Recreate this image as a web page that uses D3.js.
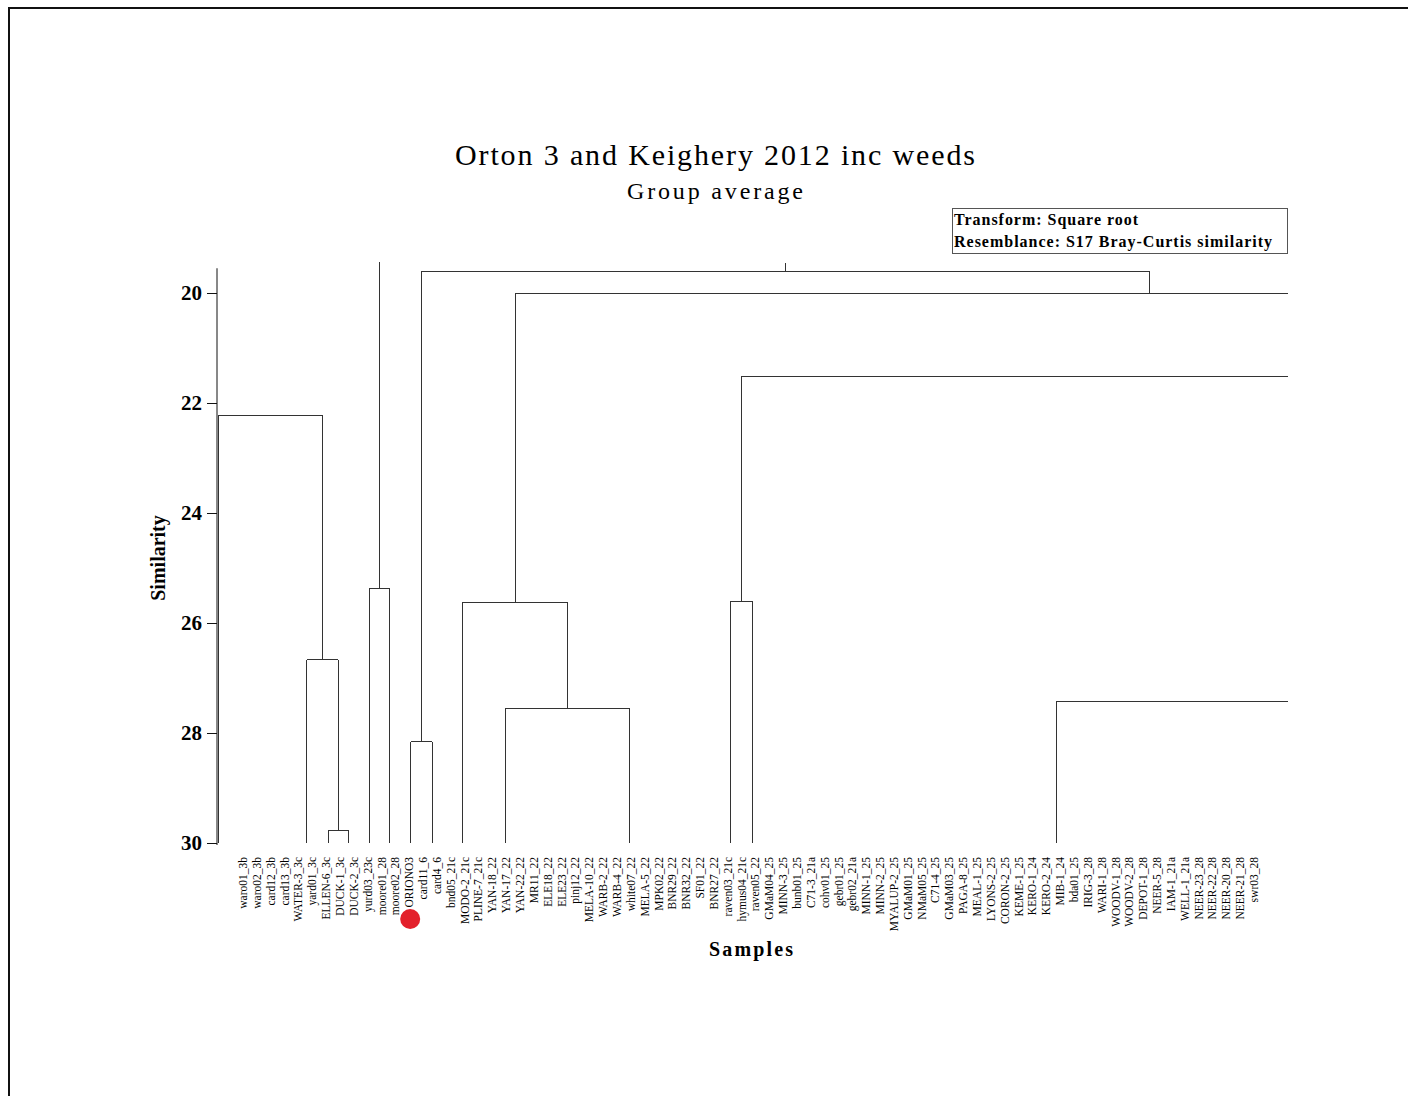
<!DOCTYPE html>
<html><head><meta charset="utf-8">
<script src="https://cdn.jsdelivr.net/npm/d3@7"></script>
<style>body{margin:0;background:#fff;overflow:hidden}</style>
</head><body>
<svg id="chart" width="1408" height="1096"></svg>
<script>
// ---------- data ----------
const titleText = "Orton 3 and Keighery 2012 inc weeds";
const subtitleText = "Group average";
const legendLines = ["Transform: Square root", "Resemblance: S17 Bray-Curtis similarity"];
const sampleLabels = [
  "waro01_3b","waro02_3b","card12_3b","card13_3b","WATER-3_3c","yard01_3c","ELLEN-6_3c","DUCK-1_3c","DUCK-2_3c",
  "yurd03_23c","moore01_28","moore02_28","ORIONO3","card11_6","card4_6","bnd05_21c","MODO-2_21c","PLINE-7_21c",
  "YAN-18_22","YAN-17_22","YAN-22_22","MR11_22","ELE18_22","ELE23_22","pinj12_22","MELA-10_22","WARB-2_22",
  "WARB-4_22","white07_22","MELA-5_22","MPK02_22","BNR29_22","BNR32_22","SF01_22","BNR27_22","raven03_21c",
  "hymus04_21c","raven05_22","GMaM04_25","MINN-3_25","bunb01_25","C71-3_21a","cohv01_25","gebr01_25","gebr02_21a",
  "MINN-1_25","MINN-2_25","MYALUP-2_25","GMaM01_25","NMaM05_25","C71-4_25","GMaM03_25","PAGA-8_25","MEAL-1_25",
  "LYONS-2_25","CORON-2_25","KEME-1_25","KERO-1_24","KERO-2_24","MIB-1_24","bda01_25","IRIG-3_28","WARI-1_28",
  "WOODV-1_28","WOODV-2_28","DEPOT-1_28","NEER-5_28","IAM-1_21a","WELL-1_21a","NEER-23_28","NEER-22_28",
  "NEER-20_28","NEER-21_28","swr03_28"
];
const simTicks = [20, 22, 24, 26, 28, 30];
// merges: [id, left child (leaf position in sample-index units, or merge id), right child, similarity]
const merges = [
  ["A", 6.14, 7.65, 29.78],
  ["B", 4.62, "A", 26.67],
  ["C", -1.8, "B", 22.22],
  ["D", 9.10, 10.61, 25.38],
  ["E", 12.13, 13.65, 28.16],
  ["G", 18.92, 27.94, 27.55],
  ["H", 15.88, "G", 25.62],
  ["I", 35.23, 36.82, 25.60],
  ["J", 58.77, 100, 27.42],
  ["K", "I", 120, 21.51],
  ["M", "H", 111.2, 20.00],
  ["F", "E", "M", 19.60]
];
// stems of top-level clusters, cut at the top of the plot
const stemIds = ["D", "F"];
const stemTopSims = [19.44, 19.45];
const highlightedSample = "ORIONO3";

// ---------- drawing ----------
const svg = d3.select("#chart");
const serif = "'Liberation Serif','Times New Roman',serif";

// outer frame
svg.append("rect").attr("x", 9).attr("y", 8).attr("width", 1420).attr("height", 1110)
  .attr("fill", "none").attr("stroke", "#111").attr("stroke-width", 2);

const x = d3.scaleLinear().domain([0, sampleLabels.length - 1]).range([243, 1254]);
const y = d3.scaleLinear().domain([30, 20]).range([843, 293]);
const axisX = 217;
const plotRight = 1288;

// titles
svg.append("text").attr("x", 715).attr("y", 165).attr("text-anchor", "middle")
  .attr("font-family", serif).attr("font-size", 30).attr("fill", "#000")
  .attr("textLength", 520).attr("lengthAdjust", "spacing").text(titleText);
svg.append("text").attr("x", 715).attr("y", 199).attr("text-anchor", "middle")
  .attr("font-family", serif).attr("font-size", 24).attr("fill", "#000")
  .attr("textLength", 176).attr("lengthAdjust", "spacing").text(subtitleText);

// legend box
svg.append("rect").attr("x", 952.5).attr("y", 208.5).attr("width", 335).attr("height", 45)
  .attr("fill", "#fff").attr("stroke", "#555").attr("stroke-width", 1);
const legLens = [184, 318];
legendLines.forEach((t, i) => {
  svg.append("text").attr("x", 954).attr("y", 225 + i * 22)
    .attr("font-family", serif).attr("font-size", 16).attr("font-weight", "bold")
    .attr("textLength", legLens[i]).attr("lengthAdjust", "spacing").text(t);
});

// y axis
const yAxis = d3.axisLeft(y).tickValues(simTicks).tickSize(10).tickPadding(5).tickFormat(d3.format("d"));
const ya = svg.append("g").attr("transform", `translate(${axisX},0)`).call(yAxis);
ya.select(".domain").remove();
ya.append("line").attr("x1", 0).attr("x2", 0).attr("y1", y(19.55)).attr("y2", y(30) + 2)
  .attr("stroke", "#111");
ya.selectAll(".tick line").attr("stroke", "#111");
ya.selectAll(".tick text").attr("font-family", serif).attr("font-size", 21)
  .attr("font-weight", "bold").attr("fill", "#000");

svg.append("text").attr("transform", `translate(165,558) rotate(-90)`).attr("text-anchor", "middle")
  .attr("font-family", serif).attr("font-size", 20).attr("font-weight", "bold").text("Similarity");
svg.append("text").attr("x", 751).attr("y", 956).attr("text-anchor", "middle")
  .attr("font-family", serif).attr("font-size", 20).attr("font-weight", "bold")
  .attr("textLength", 84).attr("lengthAdjust", "spacing").text("Samples");

// dendrogram
const clipId = "plotclip";
svg.append("clipPath").attr("id", clipId).append("rect")
  .attr("x", axisX).attr("y", 255).attr("width", plotRight - axisX).attr("height", 600);
const g = svg.append("g").attr("clip-path", `url(#${clipId})`);

const nodeInfo = {};
merges.forEach(([id, l, r, s]) => {
  const pos = c => (typeof c === "number" ? { x: c, s: 30 } : nodeInfo[c]);
  const L = pos(l), R = pos(r);
  nodeInfo[id] = { x: (L.x + R.x) / 2, s: s, L: L, R: R };
});
const segs = [];
merges.forEach(([id]) => {
  const n = nodeInfo[id];
  segs.push([n.L.x, n.L.s, n.L.x, n.s]);
  segs.push([n.R.x, n.R.s, n.R.x, n.s]);
  segs.push([n.L.x, n.s, n.R.x, n.s]);
});
stemIds.forEach((id, i) => {
  const n = nodeInfo[id];
  segs.push([n.x, n.s, n.x, stemTopSims[i]]);
});
g.selectAll("line.seg").data(segs).join("line").attr("class", "seg")
  .attr("x1", d => x(d[0])).attr("y1", d => y(d[1]))
  .attr("x2", d => x(d[2])).attr("y2", d => y(d[3]))
  .attr("stroke", "#333").attr("stroke-width", 1).attr("shape-rendering", "crispEdges");

// sample labels
svg.append("g").selectAll("text").data(sampleLabels).join("text")
  .attr("transform", (d, i) => `translate(${x(i)},857) rotate(-90)`)
  .attr("dy", "0.35em").attr("text-anchor", "end")
  .attr("font-family", serif).attr("font-size", 11.5).attr("fill", "#000")
  .text(d => d);

// highlight marker
const hi = sampleLabels.indexOf(highlightedSample);
svg.append("circle").attr("cx", x(hi) + 1).attr("cy", 919).attr("r", 10).attr("fill", "#e3202b");
</script>
</body></html>
